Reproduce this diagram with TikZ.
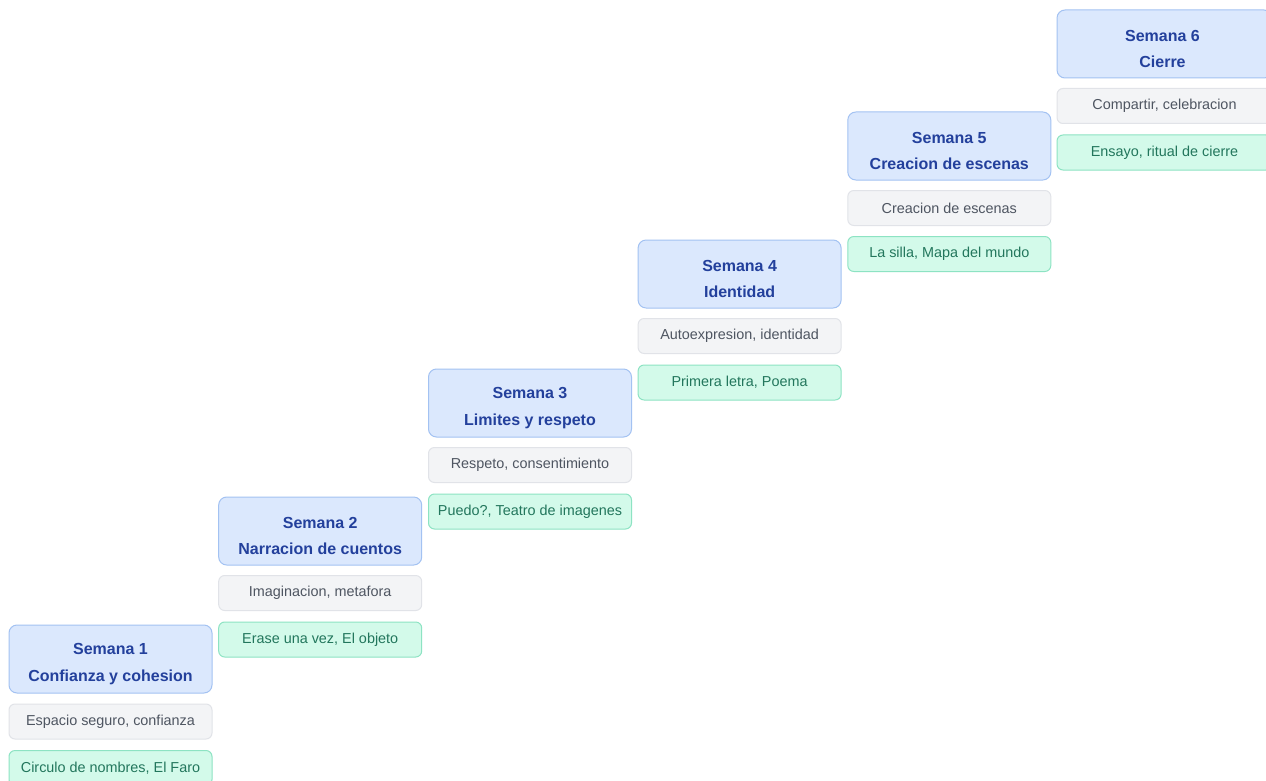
\documentclass[tikz,border=0pt]{standalone}
\usepackage{fontspec}
\setmainfont{Liberation Sans}
\begin{document}
\begin{tikzpicture}[x=1pt,y=-1pt,
  head/.style={draw=headB, fill=headF, line width=1pt, rounded corners=8pt,
    minimum width=203pt, minimum height=68pt, inner sep=0pt, align=center,
    text=headT, font={\bfseries\fontsize{16}{26}\selectfont}},
  topic/.style={draw=grayB, fill=grayF, line width=1pt, rounded corners=6pt,
    minimum width=203pt, minimum height=35pt, inner sep=0pt,
    text=grayT, font={\fontsize{14.4}{17}\selectfont}},
  act/.style={draw=greenB, fill=greenF, line width=1pt, rounded corners=6pt,
    minimum width=203pt, minimum height=35pt, inner sep=0pt,
    text=greenT, font={\fontsize{14.4}{17}\selectfont}},
  htext/.style={text=headT, font={\bfseries\fontsize{16}{26.5}\selectfont}, align=center, inner sep=0pt}
]
\definecolor{headB}{HTML}{A3C2F2}
\definecolor{headF}{HTML}{DBE8FD}
\definecolor{headT}{HTML}{23409C}
\definecolor{grayB}{HTML}{E1E3E8}
\definecolor{grayF}{HTML}{F3F4F6}
\definecolor{grayT}{HTML}{4E5561}
\definecolor{greenB}{HTML}{8DE3C3}
\definecolor{greenF}{HTML}{D3FAEA}
\definecolor{greenT}{HTML}{22765C}
\clip (0,0) rectangle (1266,781);
\fill[white] (0,0) rectangle (1266,781);
% column 1
\node[head]  (h1) at (110.5,659) {};
\node[htext] (t1) at ([yshift=-5pt]h1.center) {Semana 1\\Confianza y cohesion};
\node[topic] (g1) at (110.5,721.5) {Espacio seguro, confianza};
\node[act]   (e1) at (110.5,768) {Circulo de nombres, El Faro};
% column 2
\node[head]  (h2) at (320.2,531) {};
\node[htext] (t2) at ([yshift=-5pt]h2.center) {Semana 2\\Narracion de cuentos};
\node[topic] (g2) at (320.2,593) {Imaginacion, metafora};
\node[act]   (e2) at (320.2,639.5) {Erase una vez, El objeto};
% column 3
\node[head]  (h3) at (530,403) {};
\node[htext] (t3) at ([yshift=-5pt]h3.center) {Semana 3\\Limites y respeto};
\node[topic] (g3) at (530,465) {Respeto, consentimiento};
\node[act]   (e3) at (530,511.5) {Puedo?, Teatro de imagenes};
% column 4
\node[head]  (h4) at (739.6,274) {};
\node[htext] (t4) at ([yshift=-5pt]h4.center) {Semana 4\\Identidad};
\node[topic] (g4) at (739.6,336) {Autoexpresion, identidad};
\node[act]   (e4) at (739.6,382.5) {Primera letra, Poema};
% column 5
\node[head]  (h5) at (949.3,146) {};
\node[htext] (t5) at ([yshift=-5pt]h5.center) {Semana 5\\Creacion de escenas};
\node[topic] (g5) at (949.3,208) {Creacion de escenas};
\node[act]   (e5) at (949.3,254) {La silla, Mapa del mundo};
% column 6
\node[head,minimum width=215pt]  (h6) at (1164.5,44) {};
\node[htext] (t6) at ([yshift=-5pt,xshift=-2pt]h6.center) {Semana 6\\Cierre};
\node[topic,minimum width=215pt] (g6) at (1164.5,106) {Compartir, celebracion};
\node[act,minimum width=215pt]   (e6) at (1164.5,152.5) {Ensayo, ritual de cierre};
\end{tikzpicture}
\end{document}
